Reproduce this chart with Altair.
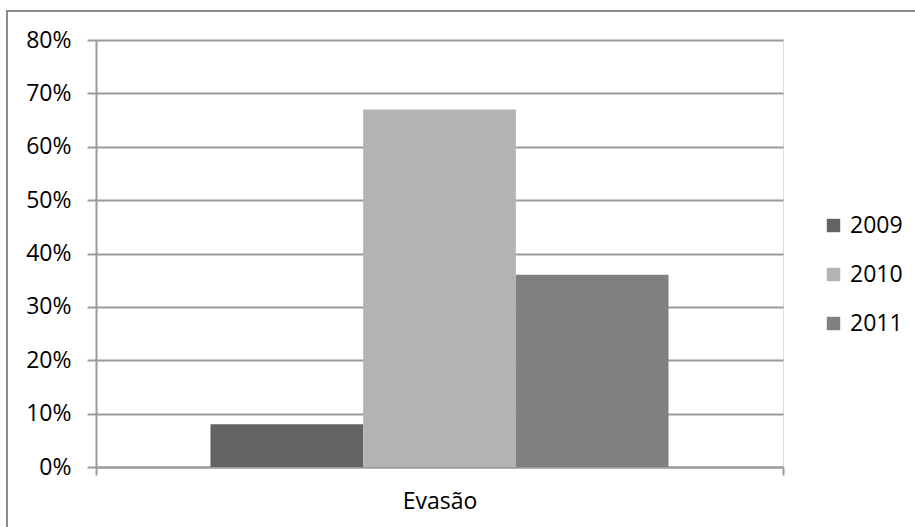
import altair as alt
import pandas as pd

# Dropout rate ("Evasão") per year
category = ["Evasão", "Evasão", "Evasão"]
years = ["2009", "2010", "2011"]
rates = [0.08, 0.67, 0.36]
colors = ["#636363", "#b3b3b3", "#808080"]

df = pd.DataFrame({"categoria": category, "ano": years, "taxa": rates})

FONT = "Open Sans"
W, H = 687, 427
GRID = "#9a9a9a"

bars = alt.Chart(df).mark_bar(stroke=None).encode(
    x=alt.X(
        "categoria:N",
        scale=alt.Scale(paddingInner=0, paddingOuter=0),
        axis=alt.Axis(
            title=None,
            labelAngle=0,
            tickBand="extent",
            tickSize=8,
            tickColor=GRID,
            tickWidth=2,
            domainColor=GRID,
            domainWidth=2,
            labelPadding=15,
            labelFontSize=23,
            labelFont=FONT,
            labelColor="#000000",
            grid=False,
        ),
    ),
    xOffset=alt.XOffset(
        "ano:N",
        scale=alt.Scale(paddingInner=0, paddingOuter=0.75),
    ),
    y=alt.Y(
        "taxa:Q",
        scale=alt.Scale(domain=[0, 0.8], nice=False),
        axis=alt.Axis(
            title=None,
            format=".0%",
            values=[0, 0.1, 0.2, 0.3, 0.4, 0.5, 0.6, 0.7, 0.8],
            tickSize=9,
            tickColor=GRID,
            tickWidth=2,
            domainColor=GRID,
            domainWidth=2,
            gridColor=GRID,
            gridWidth=2,
            labelPadding=16,
            labelFontSize=23,
            labelFont=FONT,
            labelColor="#000000",
        ),
    ),
    color=alt.Color(
        "ano:N",
        scale=alt.Scale(domain=years, range=colors),
        legend=alt.Legend(
            title=None,
            orient="none",
            legendX=726,
            legendY=174,
            symbolType="square",
            symbolSize=180,
            symbolStrokeWidth=0,
            labelFontSize=23,
            labelFont=FONT,
            labelColor="#000000",
            rowPadding=25,
            labelOffset=5,
        ),
    ),
)

# Outer chart-area frame
frame = alt.Chart(df).mark_rect(
    fill=None, stroke="#8c8c8c", strokeWidth=2, clip=False
).encode(
    x=alt.value(-89), x2=alt.value(W + 150),
    y=alt.value(-29), y2=alt.value(H + 80),
)

chart = alt.layer(bars, frame).properties(
    width=W,
    height=H,
    autosize=alt.AutoSizeParams(type="none"),
    padding={"left": 96, "top": 40, "right": 132, "bottom": 60},
).configure_view(stroke=None).configure(background="white")

chart.save("out.html", embed_options={"renderer": "svg", "actions": False})
